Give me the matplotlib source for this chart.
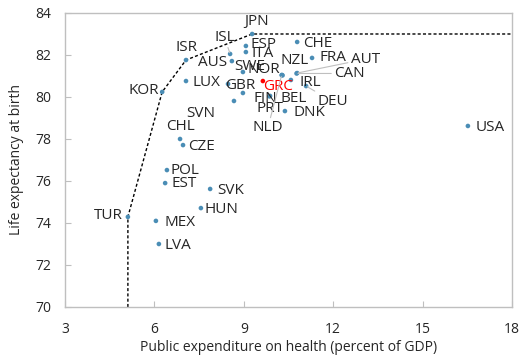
import matplotlib.pyplot as plt

plt.rcParams['font.family'] = ['Open Sans', 'DejaVu Sans']

# public health spending (% of GDP) and life expectancy at birth
countries = ['JPN', 'ISL', 'AUS', 'ESP', 'ITA', 'SWE', 'CHE', 'FRA', 'ISR', 'LUX',
             'KOR', 'GBR', 'FIN', 'SVN', 'BEL', 'PRT', 'DNK', 'GRC', 'NOR', 'NZL',
             'IRL', 'AUT', 'CAN', 'DEU', 'NLD', 'USA', 'CHL', 'CZE', 'POL', 'EST',
             'SVK', 'HUN', 'TUR', 'MEX', 'LVA']
spending = [9.28, 8.54, 8.60, 9.07, 9.07, 8.97, 10.79, 11.29, 7.06, 7.06,
            6.26, 8.47, 8.97, 8.67, 9.88, 9.86, 10.38, 9.64, 10.28, 10.30,
            10.58, 10.79, 10.77, 11.09, 10.27, 16.52, 6.86, 6.96, 6.42, 6.36,
            7.87, 7.56, 5.11, 6.05, 6.15]
life_exp = [83.0, 82.05, 81.71, 82.43, 82.14, 81.19, 82.62, 81.86, 81.76, 80.76,
            80.24, 80.62, 80.19, 79.81, 80.05, 80.03, 79.33, 80.76, 81.05, 81.03,
            80.81, 81.14, 81.12, 80.52, 81.04, 78.62, 78.0, 77.71, 76.52, 75.90,
            75.62, 74.71, 74.29, 74.10, 73.0]

# label offsets from each point (points) and whether a leader line is drawn
label_dx = [3, -4, -14, 13, 12, 5, 15, 15, 0, 15,
            -13, 9, 16, -24, 17, 0, 18, 11, -13, 9,
            14, 49, 38, 19, -10, 16, 0, 13, 13, 14,
            15, 15, -14, 17, 14]
label_dy = [9, 12, -1, 1, -1, 4, -1, 0, 9, -1,
            1, -1, -4, -9, -2, -9, -1, -4, 4, 11,
            -2, 10, 0, -11, -38, -1, 9, -1, 0, 0,
            -1, -1, 1, -1, -1]
leaders = {'ISL', 'AUT', 'CAN', 'DEU', 'NLD'}
highlight = 'GRC'

# efficiency frontier through the best performers
frontier = ['TUR', 'KOR', 'ISR', 'JPN']

x_min, x_max = 3, 18
y_min, y_max = 70, 84

fig = plt.figure(figsize=(5.26, 3.58), dpi=100)
ax = fig.add_axes([0.1236, 0.1425, 0.8498, 0.8212])

fx = [spending[countries.index(c)] for c in frontier]
fy = [life_exp[countries.index(c)] for c in frontier]
fx = [fx[0]] + fx + [x_max]
fy = [y_min] + fy + [fy[-1]]
ax.plot(fx, fy, color='black', linestyle=(0, (2.2, 1.6)), linewidth=1.0, zorder=2)

dot_colors = ['#ff0000' if c == highlight else '#4a8db5' for c in countries]
ax.scatter(spending, life_exp, s=11, c=dot_colors, linewidths=0, zorder=3)

for c, x, y, dx, dy in zip(countries, spending, life_exp, label_dx, label_dy):
    props = None
    if c in leaders:
        props = dict(arrowstyle='-', color='#bfbfbf', lw=0.8, shrinkA=0, shrinkB=1)
    ax.annotate(c, (x, y), xytext=(dx, dy), textcoords='offset points',
                ha='center', va='center', fontsize=11,
                color='#ff0000' if c == highlight else '#262626',
                arrowprops=props, zorder=4)

ax.set_xlim(x_min, x_max)
ax.set_ylim(y_min, y_max)
ax.set_xticks(range(3, 19, 3))
ax.set_yticks(range(70, 85, 2))
for s in ax.spines.values():
    s.set_color('#bfbfbf')
    s.set_linewidth(1.0)
ax.tick_params(direction='in', length=4, color='#bfbfbf', labelsize=10,
               labelcolor='#262626', pad=11)
ax.tick_params(axis='y', pad=10)
ax.set_xlabel('Public expenditure on health (percent of GDP)', fontsize=10,
              color='#262626', labelpad=2)
ax.set_ylabel('Life expectancy at birth', fontsize=10, color='#262626', labelpad=8)

fig.savefig('out.png', dpi=100)
